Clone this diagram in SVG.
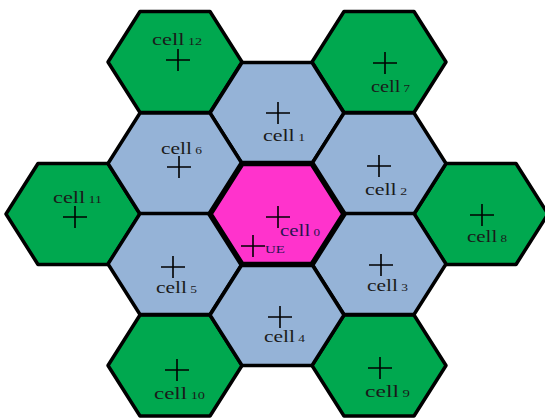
<svg xmlns="http://www.w3.org/2000/svg" xmlns:xlink="http://www.w3.org/1999/xlink" width="545" height="420" viewBox="0 0 545 420">
<style>
.hex{stroke:#000;stroke-width:3.5;stroke-linejoin:round}
.green{fill:#00A84F}
.blue{fill:#95B3D7}
.pink{fill:#FF33CC}
.cross{stroke:#000;stroke-width:1.6;fill:none}
.lbl{font-family:"Liberation Serif","Times New Roman",serif;font-size:16px;fill:#1a1a1a}
.num{font-size:10px}
</style>
<defs>
<path id="hex" d="M-67,0 L-35,-50.5 L35,-50.5 L67,0 L35,50.5 L-35,50.5 Z"/>
<path id="cross" d="M-12,0H12M0,-11V11"/>
</defs>
<rect width="545" height="420" fill="#fff"/>
<g id="cell12"><use href="#hex" class="hex green" x="175" y="62"/><use href="#cross" class="cross" x="178" y="60"/><text class="lbl" x="152" y="45" textLength="50" lengthAdjust="spacingAndGlyphs">cell<tspan class="num"> 12</tspan></text></g>
<g id="cell7"><use href="#hex" class="hex green" x="379" y="62"/><use href="#cross" class="cross" x="385" y="63"/><text class="lbl" x="371" y="92" textLength="39" lengthAdjust="spacingAndGlyphs">cell<tspan class="num"> 7</tspan></text></g>
<g id="cell11"><use href="#hex" class="hex green" x="73" y="214"/><use href="#cross" class="cross" x="75" y="217"/><text class="lbl" x="53" y="203" textLength="49" lengthAdjust="spacingAndGlyphs">cell<tspan class="num"> 11</tspan></text></g>
<g id="cell8"><use href="#hex" class="hex green" x="481" y="214"/><use href="#cross" class="cross" x="482" y="215"/><text class="lbl" x="467" y="242" textLength="40" lengthAdjust="spacingAndGlyphs">cell<tspan class="num"> 8</tspan></text></g>
<g id="cell10"><use href="#hex" class="hex green" x="175" y="365.5"/><use href="#cross" class="cross" x="177" y="370"/><text class="lbl" x="154" y="399" textLength="51" lengthAdjust="spacingAndGlyphs">cell<tspan class="num"> 10</tspan></text></g>
<g id="cell9"><use href="#hex" class="hex green" x="379" y="365.5"/><use href="#cross" class="cross" x="380" y="368"/><text class="lbl" x="365" y="397" textLength="45" lengthAdjust="spacingAndGlyphs">cell<tspan class="num"> 9</tspan></text></g>
<g id="cell1"><use href="#hex" class="hex blue" x="277" y="113"/><use href="#cross" class="cross" x="278" y="113"/><text class="lbl" x="263" y="141" textLength="42" lengthAdjust="spacingAndGlyphs">cell<tspan class="num"> 1</tspan></text></g>
<g id="cell6"><use href="#hex" class="hex blue" x="175" y="163.5"/><use href="#cross" class="cross" x="179" y="167"/><text class="lbl" x="161" y="154" textLength="41" lengthAdjust="spacingAndGlyphs">cell<tspan class="num"> 6</tspan></text></g>
<g id="cell2"><use href="#hex" class="hex blue" x="379" y="163.5"/><use href="#cross" class="cross" x="379" y="166"/><text class="lbl" x="365" y="195" textLength="42" lengthAdjust="spacingAndGlyphs">cell<tspan class="num"> 2</tspan></text></g>
<g id="cell5"><use href="#hex" class="hex blue" x="175" y="264"/><use href="#cross" class="cross" x="173" y="267"/><text class="lbl" x="156" y="293" textLength="41" lengthAdjust="spacingAndGlyphs">cell<tspan class="num"> 5</tspan></text></g>
<g id="cell3"><use href="#hex" class="hex blue" x="379" y="264"/><use href="#cross" class="cross" x="381" y="265"/><text class="lbl" x="367" y="291" textLength="41" lengthAdjust="spacingAndGlyphs">cell<tspan class="num"> 3</tspan></text></g>
<g id="cell4"><use href="#hex" class="hex blue" x="277" y="315"/><use href="#cross" class="cross" x="280" y="317"/><text class="lbl" x="264" y="342" textLength="41" lengthAdjust="spacingAndGlyphs">cell<tspan class="num"> 4</tspan></text></g>
<g id="cell0"><use href="#hex" class="hex pink" x="277" y="214" style="stroke-width:5.5"/><use href="#cross" class="cross" x="278" y="217"/><text class="lbl" x="280" y="236" textLength="40" lengthAdjust="spacingAndGlyphs" style="fill:#2a1450">cell<tspan class="num"> 0</tspan></text></g>
<g id="UE"><use href="#cross" class="cross" x="253" y="246"/><text class="lbl" x="265" y="253" textLength="20" lengthAdjust="spacingAndGlyphs" style="font-size:11px;fill:#2a1450">UE</text></g>
</svg>
